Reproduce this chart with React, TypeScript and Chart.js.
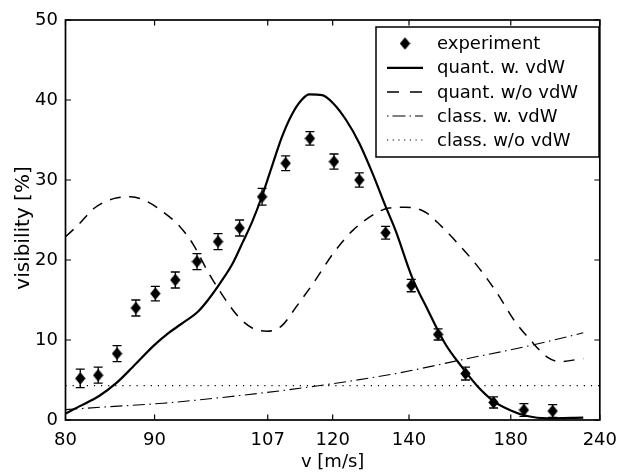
import React, { useEffect, useRef } from 'react';
import { Chart, registerables } from 'chart.js';

Chart.register(...registerables);

// ---- axis ticks ----
const X_TICKS = [80, 90, 107, 120, 140, 180, 240];
const Y_TICKS = [0, 10, 20, 30, 40, 50];

// ---- experiment ----
const expV = [81.5, 83.4, 85.5, 87.7, 90.1, 92.7, 95.7, 98.8, 102.2, 106.0, 110.3, 115.1, 120.3, 126.3, 133.2, 140.7, 149.5, 159.7, 171.7, 186.9, 204];
const expVis = [5.2, 5.6, 8.3, 14.0, 15.8, 17.5, 19.8, 22.3, 24.0, 27.9, 32.1, 35.2, 32.3, 30.0, 23.4, 16.8, 10.7, 5.8, 2.2, 1.25, 1.12];
const expErr = [1.15, 1.0, 1.0, 1.0, 0.9, 1.0, 1.0, 1.0, 1.0, 1.05, 0.92, 0.85, 0.95, 0.88, 0.8, 0.77, 0.7, 0.8, 0.7, 0.8, 0.8];

// ---- quantum with van der Waals ----
const qVdwV = [80, 81.4, 83.5, 85.4, 87.3, 89.9, 91.7, 93.5, 95.9, 97.3, 99.2, 101.1, 102.7, 104.3, 106.0, 107.8, 109.6, 111.5, 113.4, 115.0, 117.7, 120.1, 123.1, 126.3, 129.7, 133.2, 136.0, 140.9, 146.2, 151.9, 158.1, 164.7, 172.0, 180.0, 188.6, 200.3, 226];
const qVdwVis = [0.8, 1.7, 3.0, 4.6, 6.6, 9.3, 10.8, 12.0, 13.6, 15.0, 17.2, 19.6, 22.2, 24.8, 28.0, 31.8, 35.4, 38.2, 40.0, 40.7, 40.6, 39.6, 37.5, 34.6, 30.8, 26.7, 23.7, 17.9, 13.6, 9.6, 6.7, 4.2, 2.3, 1.2, 0.5, 0.2, 0.3];

// ---- quantum without van der Waals ----
const qNoV = [80, 81.3, 83.0, 85.2, 87.1, 89.1, 91.1, 93.3, 95.2, 97.3, 99.0, 101.9, 104.3, 106.9, 109.6, 112.4, 115.8, 120.1, 124.7, 129.7, 134.1, 138.9, 145.1, 150.7, 155.5, 164.7, 173.5, 181.6, 190.5, 200.3, 208.9, 226];
const qNoVis = [22.9, 24.4, 26.5, 27.7, 27.9, 27.3, 26.0, 24.2, 21.9, 18.5, 16.2, 13.0, 11.5, 11.1, 11.8, 14.2, 17.1, 20.8, 23.7, 25.6, 26.5, 26.6, 26.0, 24.2, 22.5, 19.2, 15.8, 12.5, 10.0, 7.9, 7.3, 7.7];

// ---- classical with van der Waals ----
const cVdwV = [80, 84.4, 91.1, 102.7, 116.5, 136, 159.3, 192.4, 226];
const cVdwVis = [1.3, 1.65, 2.1, 3.1, 4.25, 5.8, 7.6, 9.4, 10.9];

// ---- classical without van der Waals ----
const cNoV = [80, 240];
const cNoVis = [4.3, 4.3];

const LABELS = ['experiment', 'quant. w. vdW', 'quant. w/o vdW', 'class. w. vdW', 'class. w/o vdW'];
const X_TITLE = 'v [m/s]';
const Y_TITLE = 'visibility [%]';

const FONT_FAMILY = 'DejaVu Sans';
const toX = (v: number) => -1000 / v;
const pts = (vs: number[], ys: number[]) => vs.map((v, i) => ({ x: toX(v), y: ys[i] }));

function makeDiamond() {
  const c = document.createElement('canvas');
  c.width = 11;
  c.height = 13;
  const g = c.getContext('2d')!;
  g.fillStyle = '#000';
  g.beginPath();
  g.moveTo(5.5, 0.3);
  g.lineTo(10.7, 6.5);
  g.lineTo(5.5, 12.7);
  g.lineTo(0.3, 6.5);
  g.closePath();
  g.fill();
  return c;
}

export default function App() {
  const ref = useRef<HTMLCanvasElement | null>(null);

  useEffect(() => {
    if (!ref.current) return;
    const diamond = makeDiamond();

    const errorBars = {
      id: 'errorBars',
      beforeDatasetsDraw(chart: any) {
        const meta = chart.getDatasetMeta(0);
        const y = chart.scales.y;
        const ctx = chart.ctx;
        ctx.save();
        ctx.strokeStyle = '#000';
        ctx.lineWidth = 1.3;
        meta.data.forEach((el: any, i: number) => {
          const px = el.x;
          const y1 = y.getPixelForValue(expVis[i] + expErr[i]);
          const y2 = y.getPixelForValue(expVis[i] - expErr[i]);
          ctx.beginPath();
          ctx.moveTo(px, y1);
          ctx.lineTo(px, y2);
          ctx.moveTo(px - 4.5, y1);
          ctx.lineTo(px + 4.5, y1);
          ctx.moveTo(px - 4.5, y2);
          ctx.lineTo(px + 4.5, y2);
          ctx.stroke();
        });
        ctx.restore();
      },
    };

    const axesBox = {
      id: 'axesBox',
      afterDatasetsDraw(chart: any) {
        const { ctx, chartArea } = chart;
        const { left, right, top, bottom } = chartArea;
        const xs = chart.scales.x;
        const ys = chart.scales.y;
        ctx.save();
        ctx.strokeStyle = '#000';
        ctx.lineWidth = 1.2;
        ctx.beginPath();
        X_TICKS.forEach((t) => {
          const px = xs.getPixelForValue(toX(t));
          ctx.moveTo(px, bottom);
          ctx.lineTo(px, bottom - 5.5);
          ctx.moveTo(px, top);
          ctx.lineTo(px, top + 5.5);
        });
        Y_TICKS.forEach((t) => {
          const py = ys.getPixelForValue(t);
          ctx.moveTo(left, py);
          ctx.lineTo(left + 5.5, py);
          ctx.moveTo(right, py);
          ctx.lineTo(right - 5.5, py);
        });
        ctx.stroke();
        ctx.lineWidth = 1.7;
        ctx.strokeRect(left, top, right - left, bottom - top);
        // y axis title (slightly below centre, as in the original)
        ctx.fillStyle = '#000';
        ctx.font = `20px "${FONT_FAMILY}"`;
        ctx.textAlign = 'center';
        ctx.textBaseline = 'middle';
        ctx.translate(23.5, (top + bottom) / 2 + 8);
        ctx.rotate(-Math.PI / 2);
        ctx.fillText(Y_TITLE, 0, 0);
        ctx.restore();
      },
    };

    const legendBox = {
      id: 'legendBox',
      afterDraw(chart: any) {
        const ctx = chart.ctx;
        const bx = 376, by = 27, bw = 223, bh = 130;
        ctx.save();
        ctx.fillStyle = '#fff';
        ctx.fillRect(bx, by, bw, bh);
        ctx.strokeStyle = '#000';
        ctx.lineWidth = 1.5;
        ctx.strokeRect(bx, by, bw, bh);
        const rowY = [43.5, 67.8, 92, 116, 140];
        const dashes = [null, [], [12, 11], [1.5, 4, 13, 4], [1.2, 4.5]];
        const widths = [0, 2.2, 1.5, 1.1, 1.2];
        ctx.font = `18px "${FONT_FAMILY}"`;
        ctx.textBaseline = 'middle';
        ctx.textAlign = 'left';
        LABELS.forEach((lab, i) => {
          const yy = rowY[i];
          if (i === 0) {
            ctx.drawImage(diamond, 405 - diamond.width / 2, yy - diamond.height / 2);
          } else {
            ctx.beginPath();
            ctx.setLineDash(dashes[i] as number[]);
            ctx.lineWidth = widths[i];
            ctx.moveTo(387, yy);
            ctx.lineTo(423, yy);
            ctx.stroke();
            ctx.setLineDash([]);
          }
          ctx.fillStyle = '#000';
          ctx.fillText(lab, 437, yy + 1);
        });
        ctx.restore();
      },
    };

    const font = { family: FONT_FAMILY, size: 18 };

    const chart = new Chart(ref.current, {
      type: 'scatter',
      data: {
        datasets: [
          {
            label: LABELS[0],
            data: pts(expV, expVis),
            pointStyle: diamond as any,
            pointRadius: 6,
            showLine: false,
            order: 0,
          },
          {
            label: LABELS[1],
            data: pts(qVdwV, qVdwVis),
            showLine: true,
            borderColor: '#000',
            borderWidth: 2.2,
            pointRadius: 0,
            cubicInterpolationMode: 'monotone',
            order: 1,
          },
          {
            label: LABELS[2],
            data: pts(qNoV, qNoVis),
            showLine: true,
            borderColor: '#000',
            borderWidth: 1.5,
            borderDash: [11, 8.5],
            pointRadius: 0,
            cubicInterpolationMode: 'monotone',
            order: 2,
          },
          {
            label: LABELS[3],
            data: pts(cVdwV, cVdwVis),
            showLine: true,
            borderColor: '#000',
            borderWidth: 1.1,
            borderDash: [12, 4.5, 1.5, 4.5],
            pointRadius: 0,
            cubicInterpolationMode: 'monotone',
            order: 3,
          },
          {
            label: LABELS[4],
            data: pts(cNoV, cNoVis),
            showLine: true,
            borderColor: '#000',
            borderWidth: 1.2,
            borderDash: [1.2, 5.9],
            pointRadius: 0,
            order: 4,
          },
        ],
      } as any,
      options: {
        animation: false,
        responsive: false,
        devicePixelRatio: 1,
        layout: { padding: { top: 20, right: 19.5, left: 0, bottom: 0 } },
        plugins: { legend: { display: false }, tooltip: { enabled: false } },
        scales: {
          x: {
            type: 'linear',
            min: toX(80),
            max: toX(240),
            afterBuildTicks: (s: any) => {
              s.ticks = X_TICKS.map((v) => ({ value: toX(v) }));
            },
            afterFit: (s: any) => {
              s.height = 53;
            },
            ticks: {
              callback: (_v: any, i: number) => String(X_TICKS[i]),
              color: '#000',
              font,
              padding: 10,
              maxRotation: 0,
              minRotation: 0,
              autoSkip: false,
            },
            grid: { display: false, drawTicks: false },
            border: { display: false },
            title: { display: true, text: X_TITLE, color: '#000', font, padding: { top: 0, bottom: 0 } },
          },
          y: {
            type: 'linear',
            min: 0,
            max: 50,
            afterBuildTicks: (s: any) => {
              s.ticks = Y_TICKS.map((v) => ({ value: v }));
            },
            afterFit: (s: any) => {
              s.width = 65.5;
            },
            ticks: { color: '#000', font, padding: 7.5 },
            grid: { display: false, drawTicks: false },
            border: { display: false },
            title: { display: false },
          },
        },
      } as any,
      plugins: [errorBars, axesBox, legendBox],
    });

    return () => chart.destroy();
  }, []);

  return (
    <div style={{ position: 'fixed', left: 0, top: 0, width: 627, height: 473, background: '#fff' }}>
      <canvas ref={ref} width={627} height={473} style={{ display: 'block' }} />
    </div>
  );
}
